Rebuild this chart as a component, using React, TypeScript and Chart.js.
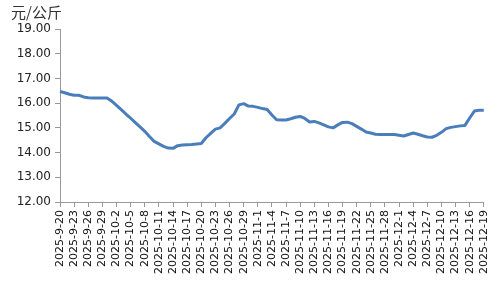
import React, { useEffect, useRef } from "react";
import { Chart, registerables } from "chart.js";

Chart.register(...registerables);

const unitLabel = "元/公斤";

function buildDates(): string[] {
  const out: string[] = [];
  const start = new Date(2025, 8, 20);
  for (let i = 0; i < 91; i++) {
    const d = new Date(start.getFullYear(), start.getMonth(), start.getDate() + i);
    out.push(`${d.getFullYear()}-${d.getMonth() + 1}-${d.getDate()}`);
  }
  return out;
}

const dates = buildDates();

const prices = [
  16.47, 16.42, 16.36, 16.32, 16.32, 16.25, 16.22, 16.21, 16.21, 16.21,
  16.21, 16.08, 15.91, 15.74, 15.56, 15.39, 15.21, 15.04, 14.86, 14.65,
  14.45, 14.35, 14.25, 14.18, 14.17, 14.28, 14.31, 14.32, 14.33, 14.35,
  14.37, 14.6, 14.78, 14.95, 15.0, 15.18, 15.38, 15.56, 15.93, 15.98,
  15.88, 15.87, 15.83, 15.78, 15.74, 15.52, 15.33, 15.32, 15.32, 15.37,
  15.43, 15.46, 15.38, 15.24, 15.26, 15.2, 15.12, 15.04, 15.0, 15.12,
  15.22, 15.23, 15.17, 15.06, 14.95, 14.83, 14.79, 14.74, 14.73, 14.73,
  14.73, 14.73, 14.7, 14.67, 14.73, 14.79, 14.74, 14.68, 14.63, 14.62,
  14.7, 14.82, 14.97, 15.02, 15.05, 15.08, 15.1, 15.4, 15.68, 15.71,
  15.71,
];

const yMin = 12;
const yMax = 19;
const labelEvery = 3;

const unitPlugin = {
  id: "unitTitle",
  afterDraw(chart: any) {
    const ctx = chart.ctx;
    ctx.save();
    ctx.font = "15px 'Noto Sans CJK SC'";
    ctx.fillStyle = "#333";
    ctx.textBaseline = "middle";
    ctx.textAlign = "left";
    ctx.fillText(unitLabel, 11, 12);
    ctx.restore();
  },
};

export default function App() {
  const ref = useRef<HTMLCanvasElement | null>(null);
  useEffect(() => {
    if (!ref.current) return;
    const chart = new Chart(ref.current, {
      type: "line",
      data: {
        labels: dates,
        datasets: [
          {
            data: prices,
            borderColor: "#4a7ebb",
            borderWidth: 3,
            borderJoinStyle: "round",
            pointRadius: 0,
            tension: 0,
            fill: false,
          },
        ],
      },
      options: {
        animation: false,
        responsive: false,
        maintainAspectRatio: false,
        layout: { padding: { top: 29, right: 12, left: 0, bottom: 0 } },
        plugins: { legend: { display: false }, tooltip: { enabled: false } },
        scales: {
          x: {
            type: "category",
            offset: false,
            afterFit(scale: any) {
              scale.height = 98;
            },
            grid: {
              display: true,
              drawOnChartArea: false,
              drawTicks: true,
              tickLength: 5,
              color: "#999",
            },
            border: { display: true, color: "#999", width: 1 },
            ticks: {
              autoSkip: false,
              minRotation: 90,
              maxRotation: 90,
              padding: 3,
              color: "#111",
              font: { family: "'DejaVu Sans'", size: 11 },
              callback: (_v: any, i: number) => (i % labelEvery === 0 ? dates[i] : null),
            },
          },
          y: {
            min: yMin,
            max: yMax,
            afterFit(scale: any) {
              scale.width = 60;
            },
            grid: {
              display: true,
              drawOnChartArea: false,
              drawTicks: true,
              tickLength: 5,
              color: "#999",
            },
            border: { display: true, color: "#999", width: 1 },
            ticks: {
              stepSize: 1,
              padding: 4,
              color: "#222",
              font: { family: "'DejaVu Sans'", size: 12 },
              callback: (v: any) => Number(v).toFixed(2),
            },
          },
        },
      },
      plugins: [unitPlugin],
    });
    return () => chart.destroy();
  }, []);
  return (
    <div style={{ position: "fixed", left: 0, top: 0, width: 500, height: 300, background: "#fff" }}>
      <canvas ref={ref} width={500} height={300} style={{ width: 500, height: 300 }} />
    </div>
  );
}
